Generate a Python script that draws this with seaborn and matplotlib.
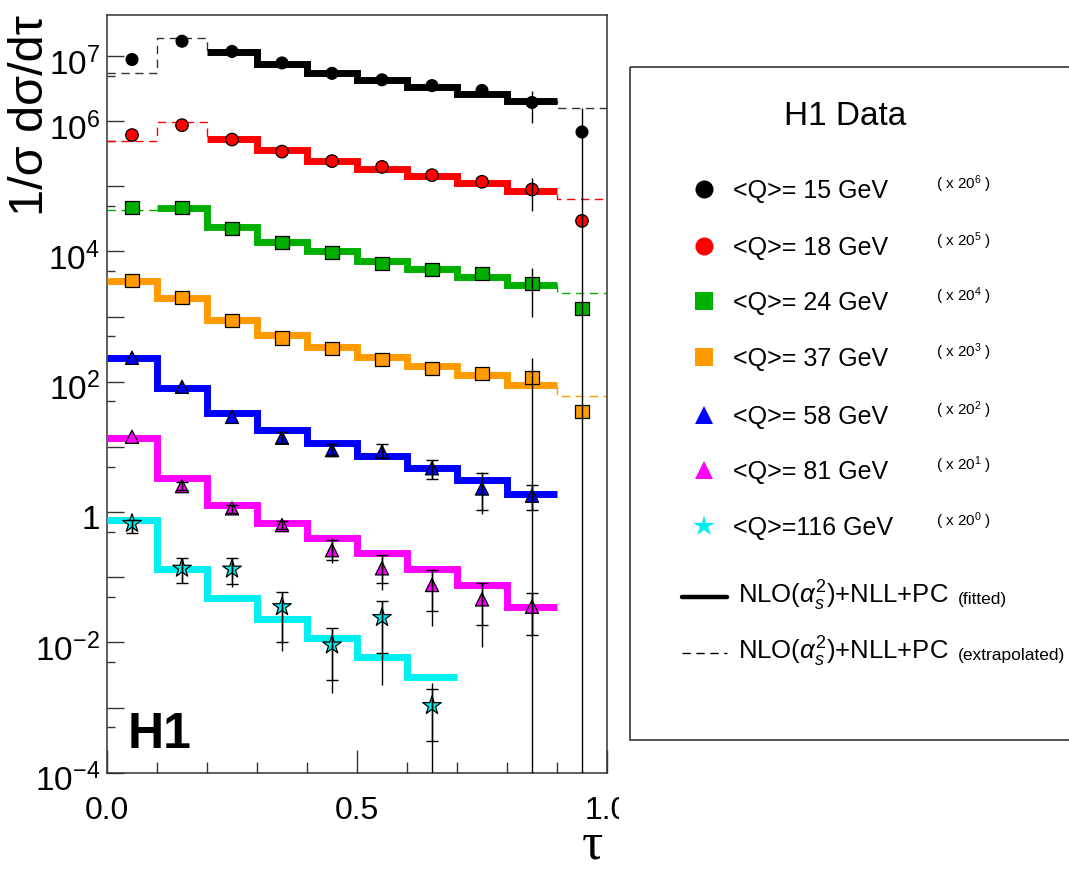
import numpy as np
import pandas as pd
import matplotlib
matplotlib.use("Agg")
import matplotlib.pyplot as plt
import seaborn as sns
from matplotlib.patches import Rectangle
from matplotlib.lines import Line2D
from matplotlib.ticker import FixedLocator, NullFormatter
from matplotlib.transforms import Bbox, TransformedBbox, ScaledTranslation

nan = np.nan

# ---------------- data ----------------
bin_edges = [0.0, 0.1, 0.2, 0.3, 0.4, 0.5, 0.6, 0.7, 0.8, 0.9, 1.0]
tau_centres = [0.05, 0.15, 0.25, 0.35, 0.45, 0.55, 0.65, 0.75, 0.85, 0.95]

series_names = ["<Q>= 15 GeV", "<Q>= 18 GeV", "<Q>= 24 GeV", "<Q>= 37 GeV",
                "<Q>= 58 GeV", "<Q>= 81 GeV", "<Q>=116 GeV"]
scale_powers = [6, 5, 4, 3, 2, 1, 0]
series_colors = ["#000000", "#ff0000", "#00b000", "#ff9a00",
                 "#0000ff", "#ff00ff", "#00f0f0"]
series_markers = ["o", "o", "s", "s", "^", "^", "*"]
marker_sizes = [8.5, 9.0, 9.5, 9.5, 9.5, 9.5, 14.0]

# measured 1/sigma dsigma/dtau (already multiplied by 20^n)
q15_data = [8.8e6, 1.68e7, 1.17e7, 7.8e6, 5.4e6, 4.3e6, 3.5e6, 2.95e6, 1.93e6, 6.8e5]
q18_data = [6.1e5, 8.65e5, 5.2e5, 3.4e5, 2.43e5, 1.98e5, 1.48e5, 1.17e5, 8.9e4, 2.94e4]
q24_data = [4.66e4, 4.66e4, 2.25e4, 1.37e4, 9.6e3, 6.5e3, 5.3e3, 4.6e3, 3.2e3, 1.33e3]
q37_data = [3530, 1960, 880, 470, 324, 222, 160, 134, 115, 34.5]
q58_data = [233, 83.6, 28.9, 13.8, 8.9, 8.4, 4.7, 2.3, 1.78]
q81_data = [14.3, 2.5, 1.14, 0.63, 0.26, 0.137, 0.076, 0.0457, 0.0352]
q116_data = [0.668, 0.137, 0.133, 0.0352, 0.0091, 0.024, 0.00107]

# statistical error band (lower, upper)
q15_stat_lo = [nan] * 10
q15_stat_hi = [nan] * 10
q18_stat_lo = [nan] * 10
q18_stat_hi = [nan] * 10
q24_stat_lo = [nan] * 10
q24_stat_hi = [nan] * 10
q37_stat_lo = [nan] * 10
q37_stat_hi = [nan] * 10
q58_stat_lo = [nan, nan, nan, 11.5, 7.6, 6.7, 3.16, 1.07, 1.07]
q58_stat_hi = [nan, nan, nan, 17.0, 11.2, 11.0, 6.27, 3.93, 2.57]
q81_stat_lo = [nan, 2.2, 0.98, 0.55, 0.186, 0.0804, 0.0305, 0.0184, 0.0132]
q81_stat_hi = [nan, 2.85, 1.3, 0.72, 0.367, 0.219, 0.129, 0.0804, 0.0575]
q116_stat_lo = [0.47, 0.0804, 0.0794, 0.0102, 0.00263, 0.00676, 0.00031]
q116_stat_hi = [0.76, 0.195, 0.195, 0.0597, 0.0164, 0.043, 0.0019]

# total error band (lower, upper)
q15_tot_lo = [nan] * 8 + [9.5e5, 0.0]
q15_tot_hi = [nan] * 8 + [2.9e6, 1.6e6]
q18_tot_lo = [nan] * 8 + [4.2e4, nan]
q18_tot_hi = [nan] * 8 + [1.34e5, nan]
q24_tot_lo = [nan] * 8 + [990, nan]
q24_tot_hi = [nan] * 8 + [5500, nan]
q37_tot_lo = [nan] * 8 + [0.0, nan]
q37_tot_hi = [nan] * 8 + [228, nan]
q58_tot_lo = [nan, nan, nan, 11.5, 7.6, 6.7, 3.16, 0.93, 1.07]
q58_tot_hi = [nan, nan, nan, 17.0, 11.2, 11.0, 6.27, 4.17, 2.57]
q81_tot_lo = [nan, 2.2, 0.98, 0.55, 0.163, 0.063, 0.0178, 0.0084, 0.0132]
q81_tot_hi = [nan, 2.85, 1.3, 0.72, 0.394, 0.219, 0.129, 0.0804, 0.0575]
q116_tot_lo = [0.47, 0.0804, 0.0714, 0.0074, 0.00166, 0.00224, 0.0]
q116_tot_hi = [0.76, 0.195, 0.195, 0.0597, 0.0164, 0.043, 0.0024]

# NLO(as^2)+NLL+PC prediction per tau bin
q15_theory = [5.4e6, 1.9e7, 1.15e7, 7.6e6, 5.5e6, 4.2e6, 3.3e6, 2.57e6, 2.02e6, 1.58e6]
q18_theory = [5.0e5, 9.6e5, 5.4e5, 3.55e5, 2.43e5, 1.87e5, 1.44e5, 1.13e5, 8.5e4, 6.4e4]
q24_theory = [4.3e4, 4.56e4, 2.38e4, 1.4e4, 1.0e4, 7.2e3, 5.3e3, 4.07e3, 3.03e3, 2.26e3]
q37_theory = [3530, 1960, 880, 519, 336, 241, 174, 126, 88.7, 60]
q58_theory = [233, 80.5, 32.6, 18.1, 11.3, 7.3, 4.68, 3.09, 1.88]
q81_theory = [13.5, 3.28, 1.28, 0.668, 0.394, 0.232, 0.132, 0.0757, 0.0344]
q116_theory = [0.753, 0.132, 0.0484, 0.0231, 0.0115, 0.0059, 0.0029]

# fitted tau range (first, last+1 bin index); the rest is extrapolated
fit_ranges = [(2, 9), (2, 9), (1, 9), (0, 9), (0, 9), (0, 9), (0, 7)]

data_sets = [q15_data, q18_data, q24_data, q37_data, q58_data, q81_data, q116_data]
theory_sets = [q15_theory, q18_theory, q24_theory, q37_theory, q58_theory, q81_theory, q116_theory]
stat_lo_sets = [q15_stat_lo, q18_stat_lo, q24_stat_lo, q37_stat_lo, q58_stat_lo, q81_stat_lo, q116_stat_lo]
stat_hi_sets = [q15_stat_hi, q18_stat_hi, q24_stat_hi, q37_stat_hi, q58_stat_hi, q81_stat_hi, q116_stat_hi]
tot_lo_sets = [q15_tot_lo, q18_tot_lo, q24_tot_lo, q37_tot_lo, q58_tot_lo, q81_tot_lo, q116_tot_lo]
tot_hi_sets = [q15_tot_hi, q18_tot_hi, q24_tot_hi, q37_tot_hi, q58_tot_hi, q81_tot_hi, q116_tot_hi]

# ---------------- style ----------------
sns.set_theme(style="white")
plt.rcParams["font.family"] = ["Liberation Sans", "DejaVu Sans"]
plt.rcParams["mathtext.fontset"] = "custom"
plt.rcParams["mathtext.rm"] = "Liberation Sans"
plt.rcParams["mathtext.it"] = "Liberation Sans:italic"
plt.rcParams["mathtext.bf"] = "Liberation Sans:bold"
plt.rcParams["mathtext.sf"] = "Liberation Sans"
plt.rcParams["axes.unicode_minus"] = False
plt.rcParams["text.color"] = "black"
plt.rcParams["axes.labelcolor"] = "black"
plt.rcParams["xtick.color"] = "black"
plt.rcParams["ytick.color"] = "black"

W, H = 1069, 871
fig = plt.figure(figsize=(W / 100, H / 100), dpi=100, facecolor="white")
ax = fig.add_axes([107 / W, 1 - 772.7 / H, 500 / W, (772.7 - 15.3) / H])
ax.set_facecolor("white")
ax.set_yscale("log")
ax.set_xlim(0.0, 1.0)
ax.set_ylim(1e-4, 4.2e7)

axis_col = "#333333"
for sp in ax.spines.values():
    sp.set_color(axis_col)
    sp.set_linewidth(1.1)

# theory step curves
for i in range(7):
    th = np.array(theory_sets[i], dtype=float)
    n = len(th)
    edges = np.array(bin_edges[: n + 1])
    lo, hi = fit_ranges[i]
    col = series_colors[i]
    if lo > 0 or hi < n:
        dcol = "#333333" if i == 0 else col
        ax.stairs(th, edges, baseline=None, color=dcol, linewidth=1.0,
                  linestyle=(0, (6, 4)), zorder=2)
    ax.stairs(th[lo:hi], edges[lo:hi + 1], baseline=None, color=col,
              linewidth=5.0, joinstyle="miter", capstyle="butt", zorder=3)

# data points
rows = []
for i in range(7):
    for t, v in zip(tau_centres, data_sets[i]):
        rows.append({"tau": t, "value": v, "series": series_names[i]})
df = pd.DataFrame(rows)
sns.scatterplot(data=df, x="tau", y="value", hue="series", style="series", size="series",
                palette=dict(zip(series_names, series_colors)),
                markers=dict(zip(series_names, series_markers)),
                sizes=dict(zip(series_names, [m ** 2 for m in marker_sizes])),
                edgecolor="black", linewidth=0.9, legend=False, ax=ax, zorder=4)

# error bars: total (plain line) and statistical (with end ticks)
for i in range(7):
    v = np.array(data_sets[i], dtype=float)
    t = np.array(tau_centres[: len(v)])
    for lo_arr, hi_arr, cap in ((tot_lo_sets[i], tot_hi_sets[i], 0),
                                (stat_lo_sets[i], stat_hi_sets[i], 4)):
        lo_b = np.array(lo_arr, dtype=float)
        hi_b = np.array(hi_arr, dtype=float)
        m = np.isfinite(lo_b) & np.isfinite(hi_b)
        if not m.any():
            continue
        yerr = np.vstack([v[m] - lo_b[m], hi_b[m] - v[m]])
        ax.errorbar(t[m], v[m], yerr=yerr, fmt="none", ecolor="black",
                    elinewidth=1.0, capsize=cap, capthick=1.0, zorder=5)

# axis ticks
major_y = [10.0 ** k for k in range(-4, 8)]
ylabels = {-4: r"$10^{-4}$", -2: r"$10^{-2}$", 0: "1", 2: r"$10^{2}$",
           4: r"$10^{4}$", 6: r"$10^{6}$", 7: r"$10^{7}$"}
ax.yaxis.set_major_locator(FixedLocator(major_y))
ax.set_yticklabels([ylabels.get(k, "") for k in range(-4, 8)])
ax.yaxis.set_minor_locator(FixedLocator([5 * 10.0 ** k for k in range(-4, 8)]))
ax.yaxis.set_minor_formatter(NullFormatter())
ax.xaxis.set_major_locator(FixedLocator([0.0, 0.5, 1.0]))
ax.set_xticklabels(["0.0", "0.5", "1.0"])
ax.xaxis.set_minor_locator(FixedLocator([0.1, 0.2, 0.3, 0.4, 0.6, 0.7, 0.8, 0.9]))
ax.tick_params(axis="y", which="major", direction="in", length=12, width=1.0,
               color=axis_col, labelcolor="black", labelsize=24, pad=5,
               left=True, right=False)
ax.tick_params(axis="y", which="minor", direction="in", length=6, width=1.0,
               color=axis_col, left=True, right=False)
ax.tick_params(axis="x", which="major", direction="in", length=16.5, width=1.0,
               color=axis_col, labelcolor="black", labelsize=23, pad=17,
               bottom=True, top=False)
ax.tick_params(axis="x", which="minor", direction="in", length=8, width=1.0,
               color=axis_col, bottom=True, top=False)
ax.set_xlabel("")
ax.set_ylabel("")

shift = ScaledTranslation(0, -5 / 100, fig.dpi_scale_trans)
for lbl in ax.get_yticklabels():
    lbl.set_transform(lbl.get_transform() + shift)
clip = TransformedBbox(Bbox([[0, 0], [619 / W, 1]]), fig.transFigure)
for lbl in ax.get_xticklabels():
    lbl.set_clip_box(clip)
    lbl.set_clip_on(True)

# overlay in pixel coordinates for titles and the key
ov = fig.add_axes([0, 0, 1, 1], facecolor="none")
ov.set_xlim(0, W)
ov.set_ylim(H, 0)
ov.axis("off")

ov.text(31, 15, "1/σ dσ/dτ", rotation=90, ha="center", va="top", fontsize=35,
        color="black")
ov.text(128, 748, "H1", fontweight="bold", fontsize=36, ha="left", va="baseline",
        color="black")
ov.text(592, 869, "τ", ha="center", va="bottom", fontsize=38,
        family="Liberation Serif", color="black")

ov.add_patch(Rectangle((630, 67), 460, 673, fill=False, edgecolor="#222222", linewidth=1.1))
ov.text(845, 125, "H1 Data", ha="center", va="baseline", fontsize=24)

entry_y = [189, 246, 301, 357, 415, 470, 526]
leg_ms = [13, 13, 13, 13, 13, 13, 16]
for i in range(7):
    y = entry_y[i]
    ov.plot([704], [y], marker=series_markers[i], color=series_colors[i],
            markersize=leg_ms[i], markeredgewidth=0, linestyle="none")
    ov.text(733, y + 8.5, series_names[i], ha="left", va="baseline", fontsize=18)
    ov.text(936, y, r"( x 20$^{%d}$ )" % scale_powers[i], ha="left",
            va="baseline", fontsize=11)

ov.add_line(Line2D([682, 727], [597, 597], color="black", linewidth=3.2))
ov.add_line(Line2D([682, 727], [653, 653], color="black", linewidth=1.0,
                   linestyle=(0, (6, 4))))
theory_label = r"NLO($\alpha_{s}^{2}$)+NLL+PC"
ov.text(738, 604, theory_label, ha="left", va="baseline", fontsize=18.5)
ov.text(738, 660, theory_label, ha="left", va="baseline", fontsize=18.5)
ov.text(958, 604, "(fitted)", ha="left", va="baseline", fontsize=12.5)
ov.text(958, 660, "(extrapolated)", ha="left", va="baseline", fontsize=12.5)

fig.savefig("out.png", dpi=100, facecolor="white")
